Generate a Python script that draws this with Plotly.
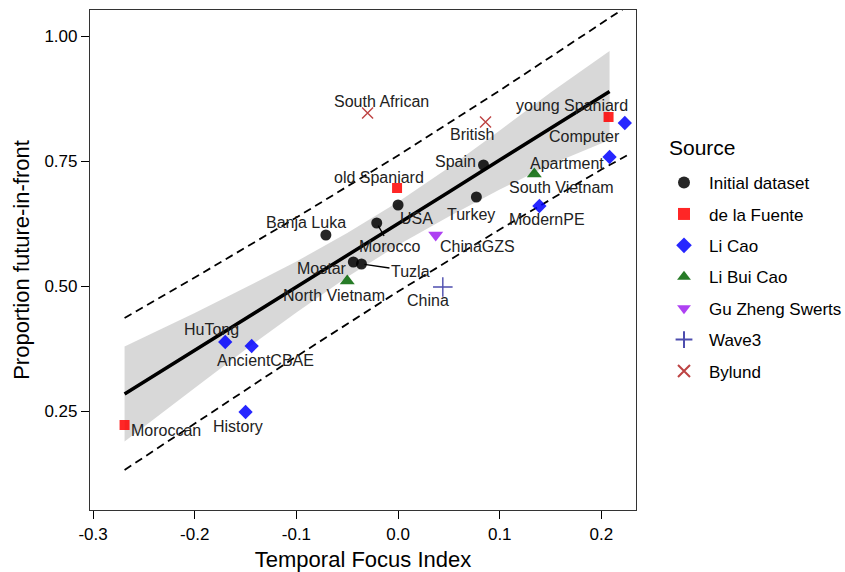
import plotly.graph_objects as go

# ---- data ----
sources = ["Initial dataset", "de la Fuente", "Li Cao", "Li Bui Cao",
           "Gu Zheng Swerts", "Wave3", "Bylund"]

initial_names = ["Banja Luka", "Mostar", "Tuzla", "Morocco", "USA", "Turkey", "Spain"]
initial_x = [-0.071, -0.044, -0.036, -0.021, 0.000, 0.077, 0.084]
initial_y = [0.602, 0.548, 0.544, 0.626, 0.662, 0.678, 0.742]

fuente_names = ["old Spaniard", "young Spaniard", "Moroccan"]
fuente_x = [-0.001, 0.207, -0.269]
fuente_y = [0.696, 0.838, 0.222]

licao_names = ["Computer", "Apartment", "ModernPE", "HuTong", "AncientCBAE", "History"]
licao_x = [0.223, 0.208, 0.139, -0.170, -0.144, -0.150]
licao_y = [0.826, 0.758, 0.660, 0.388, 0.380, 0.248]

libuicao_names = ["South Vietnam", "North Vietnam"]
libuicao_x = [0.134, -0.050]
libuicao_y = [0.724, 0.510]

gzs_names = ["ChinaGZS"]
gzs_x = [0.037]
gzs_y = [0.602]

wave3_names = ["China"]
wave3_x = [0.044]
wave3_y = [0.498]

bylund_names = ["South African", "British"]
bylund_x = [-0.030, 0.086]
bylund_y = [0.846, 0.828]

# fitted line and its confidence ribbon
fit_x = [-0.269, -0.2, -0.15, -0.1, -0.05, 0.0, 0.05, 0.1, 0.15, 0.208]
fit_y = [0.284, 0.371, 0.435, 0.498, 0.562, 0.625, 0.688, 0.752, 0.815, 0.889]
ci_lo = [0.189, 0.296, 0.373, 0.447, 0.518, 0.582, 0.639, 0.693, 0.743, 0.792]
ci_hi = [0.379, 0.446, 0.497, 0.549, 0.606, 0.668, 0.737, 0.811, 0.887, 0.970]

# prediction interval (dashed lines)
pi_x = [-0.269, -0.2, -0.1, 0.0, 0.1, 0.2, 0.225]
pi_lo = [0.132, 0.225, 0.359, 0.489, 0.613, 0.733, 0.761]
pi_hi = [0.436, 0.517, 0.637, 0.761, 0.891, 1.025, 1.059]

x_ticks = [-0.3, -0.2, -0.1, 0.0, 0.1, 0.2]
y_ticks = [0.25, 0.50, 0.75, 1.00]

# ---- styling ----
FONT = "Liberation Sans, Arial, sans-serif"
styles = {
    "Initial dataset": dict(symbol="circle", color="#000000", size=11),
    "de la Fuente": dict(symbol="square", color="#FF0000", size=10),
    "Li Cao": dict(symbol="diamond", color="#0000FF", size=11),
    "Li Bui Cao": dict(symbol="triangle-up", color="#006400", size=13),
    "Gu Zheng Swerts": dict(symbol="triangle-down", color="#A020F0", size=13),
    "Wave3": dict(symbol="cross-thin-open", color="#2E2EA0", size=14),
    "Bylund": dict(symbol="x-thin-open", color="#B22222", size=11),
}
groups = {
    "Initial dataset": (initial_names, initial_x, initial_y),
    "de la Fuente": (fuente_names, fuente_x, fuente_y),
    "Li Cao": (licao_names, licao_x, licao_y),
    "Li Bui Cao": (libuicao_names, libuicao_x, libuicao_y),
    "Gu Zheng Swerts": (gzs_names, gzs_x, gzs_y),
    "Wave3": (wave3_names, wave3_x, wave3_y),
    "Bylund": (bylund_names, bylund_x, bylund_y),
}

# label offsets in pixels (dx right, dy up); a third item draws a leader segment
label_offsets = {
    "Banja Luka": (-20, 13), "Mostar": (-31, -6), "Tuzla": (49, -7, True),
    "Morocco": (13, -23, True), "USA": (18, -13), "Turkey": (-5, -17),
    "Spain": (-28, 4), "old Spaniard": (-18, 11), "young Spaniard": (-37, 12),
    "Moroccan": (41, -5), "Computer": (-40, -13), "Apartment": (-43, -6),
    "ModernPE": (8, -13), "HuTong": (-14, 13), "AncientCBAE": (14, -14),
    "History": (-8, -14), "South Vietnam": (27, -13), "North Vietnam": (-13, -14),
    "ChinaGZS": (42, -11), "China": (-15, -13), "South African": (14, 12),
    "British": (-14, -12),
}

fig = go.Figure()

# confidence ribbon
fig.add_trace(go.Scatter(x=fit_x + fit_x[::-1], y=ci_hi + ci_lo[::-1],
                         fill="toself", fillcolor="rgba(190,190,190,0.6)",
                         line=dict(width=0), hoverinfo="skip", showlegend=False))
# prediction interval
for arr in (pi_lo, pi_hi):
    fig.add_trace(go.Scatter(x=pi_x, y=arr, mode="lines",
                             line=dict(color="black", width=1.8, dash="8px,5px"),
                             hoverinfo="skip", showlegend=False))
# fit line
fig.add_trace(go.Scatter(x=fit_x, y=fit_y, mode="lines",
                         line=dict(color="black", width=3.5),
                         hoverinfo="skip", showlegend=False))

for src in sources:
    names, xs, ys = groups[src]
    st = styles[src]
    open_sym = st["symbol"].endswith("open")
    marker = dict(symbol=st["symbol"], size=st["size"], color=st["color"],
                  opacity=0.85)
    if open_sym:
        marker["line"] = dict(color=st["color"], width=1.4)
    else:
        marker["line"] = dict(width=0)
    fig.add_trace(go.Scatter(x=xs, y=ys, mode="markers", name=src,
                             marker=marker, text=names, legendgroup=src))

LABEL_FONT = dict(family=FONT, size=16, color="#222")
annotations = []
for src in sources:
    names, xs, ys = groups[src]
    for n, xv, yv in zip(names, xs, ys):
        off = label_offsets[n]
        dx, dy = off[0], off[1]
        if len(off) > 2:
            annotations.append(dict(x=xv, y=yv, xref="x", yref="y", text=n,
                                    showarrow=True, ax=dx, ay=-dy, arrowhead=0,
                                    arrowwidth=1.3, arrowcolor="black", standoff=3,
                                    font=LABEL_FONT))
        else:
            annotations.append(dict(x=xv, y=yv, xref="x", yref="y", text=n,
                                    showarrow=False, xshift=dx, yshift=dy,
                                    font=LABEL_FONT))

# legend title as separate text
annotations.append(dict(x=(667 - 90) / 546, y=(510 - 147) / 500, xref="paper",
                        yref="paper", text="Source", showarrow=False,
                        xanchor="left", yanchor="middle",
                        font=dict(family=FONT, size=21, color="black")))

fig.update_layout(
    width=845, height=572,
    margin=dict(l=90, r=209, t=10, b=62, autoexpand=False),
    paper_bgcolor="white", plot_bgcolor="white",
    font=dict(family=FONT, size=17, color="black"),
    annotations=annotations,
    legend=dict(x=(659 - 90) / 546, y=(510 - 165) / 500, xanchor="left", yanchor="top",
                font=dict(size=17), tracegroupgap=6.3, itemwidth=40,
                itemsizing="constant", bgcolor="rgba(0,0,0,0)"),
    showlegend=True,
)
fig.update_xaxes(range=[-0.303, 0.234], tickvals=x_ticks,
                 ticktext=[f"{v:.1f}" for v in x_ticks],
                 ticks="outside", ticklen=8, tickcolor="black",
                 showline=True, linecolor="#333", linewidth=1.2, mirror=True,
                 showgrid=False, zeroline=False,
                 title=dict(text="Temporal Focus Index", font=dict(size=22), standoff=10),
                 tickfont=dict(size=17))
fig.update_yaxes(range=[0.052, 1.052], tickvals=y_ticks,
                 ticktext=[f"{v:.2f}" for v in y_ticks],
                 ticks="outside", ticklen=8, tickcolor="black",
                 showline=True, linecolor="#333", linewidth=1.2, mirror=True,
                 showgrid=False, zeroline=False,
                 title=dict(text="Proportion future-in-front", font=dict(size=22), standoff=8),
                 tickfont=dict(size=17))

fig.write_html("out.html")
